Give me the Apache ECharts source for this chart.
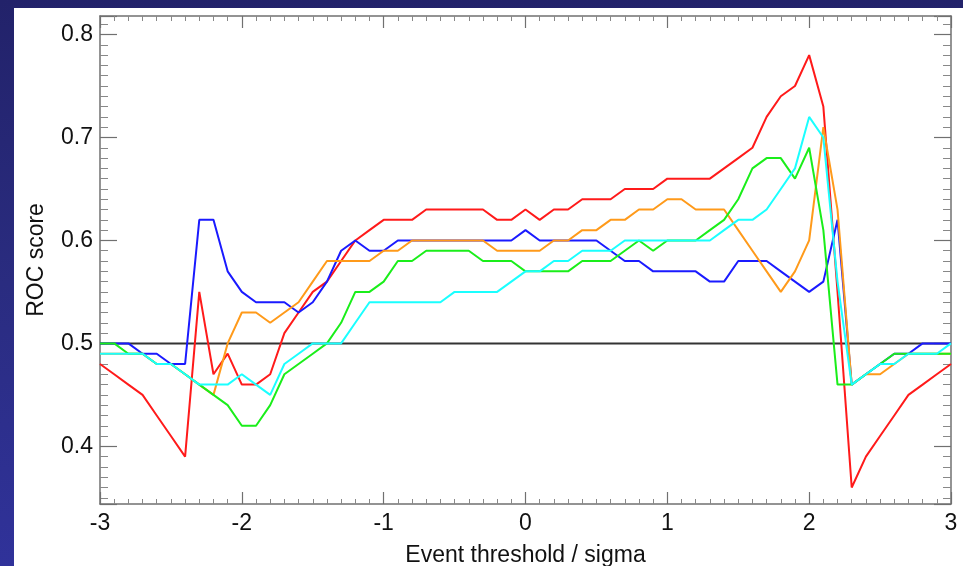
<!DOCTYPE html>
<html>
<head>
<meta charset="utf-8">
<script src="https://cdn.jsdelivr.net/npm/echarts@6/dist/echarts.min.js"></script>
<style>
html,body{margin:0;padding:0;width:963px;height:566px;overflow:hidden;
background:linear-gradient(180deg,#22226a 0%,#2a2c80 50%,#30329a 100%);}
#chart{position:absolute;left:14px;top:8px;width:949px;height:558px;background:#ffffff;}
</style>
</head>
<body>
<div id="chart"></div>
<script>
// x values: event threshold / sigma, -3.0 .. 3.0 step 0.1
const thresholds = ["-3.0","-2.9","-2.8","-2.7","-2.6","-2.5","-2.4","-2.3","-2.2","-2.1",
"-2.0","-1.9","-1.8","-1.7","-1.6","-1.5","-1.4","-1.3","-1.2","-1.1",
"-1.0","-0.9","-0.8","-0.7","-0.6","-0.5","-0.4","-0.3","-0.2","-0.1",
"0.0","0.1","0.2","0.3","0.4","0.5","0.6","0.7","0.8","0.9",
"1.0","1.1","1.2","1.3","1.4","1.5","1.6","1.7","1.8","1.9",
"2.0","2.1","2.2","2.3","2.4","2.5","2.6","2.7","2.8","2.9","3.0"];

const redScores = [0.48,0.47,0.46,0.45,0.43,0.41,0.39,0.55,0.47,0.49,
0.46,0.46,0.47,0.51,0.53,0.55,0.56,0.58,0.60,0.61,
0.62,0.62,0.62,0.63,0.63,0.63,0.63,0.63,0.62,0.62,
0.63,0.62,0.63,0.63,0.64,0.64,0.64,0.65,0.65,0.65,
0.66,0.66,0.66,0.66,0.67,0.68,0.69,0.72,0.74,0.75,
0.78,0.73,0.55,0.36,0.39,0.41,0.43,0.45,0.46,0.47,0.48];

const blueScores = [0.50,0.50,0.50,0.49,0.49,0.48,0.48,0.62,0.62,0.57,
0.55,0.54,0.54,0.54,0.53,0.54,0.56,0.59,0.60,0.59,
0.59,0.60,0.60,0.60,0.60,0.60,0.60,0.60,0.60,0.60,
0.61,0.60,0.60,0.60,0.60,0.60,0.59,0.58,0.58,0.57,
0.57,0.57,0.57,0.56,0.56,0.58,0.58,0.58,0.57,0.56,
0.55,0.56,0.62,0.46,0.47,0.48,0.49,0.49,0.50,0.50,0.50];

const orangeScores = [0.49,0.49,0.49,0.49,0.48,0.48,0.47,0.46,0.45,0.50,
0.53,0.53,0.52,0.53,0.54,0.56,0.58,0.58,0.58,0.58,
0.59,0.59,0.60,0.60,0.60,0.60,0.60,0.60,0.59,0.59,
0.59,0.59,0.60,0.60,0.61,0.61,0.62,0.62,0.63,0.63,
0.64,0.64,0.63,0.63,0.63,0.61,0.59,0.57,0.55,0.57,
0.60,0.71,0.63,0.46,0.47,0.47,0.48,0.49,0.49,0.49,0.49];

const greenScores = [0.50,0.50,0.49,0.49,0.48,0.48,0.47,0.46,0.45,0.44,
0.42,0.42,0.44,0.47,0.48,0.49,0.50,0.52,0.55,0.55,
0.56,0.58,0.58,0.59,0.59,0.59,0.59,0.58,0.58,0.58,
0.57,0.57,0.57,0.57,0.58,0.58,0.58,0.59,0.60,0.59,
0.60,0.60,0.60,0.61,0.62,0.64,0.67,0.68,0.68,0.66,
0.69,0.61,0.46,0.46,0.47,0.48,0.49,0.49,0.49,0.49,0.49];

const cyanScores = [0.49,0.49,0.49,0.49,0.48,0.48,0.47,0.46,0.46,0.46,
0.47,0.46,0.45,0.48,0.49,0.50,0.50,0.50,0.52,0.54,
0.54,0.54,0.54,0.54,0.54,0.55,0.55,0.55,0.55,0.56,
0.57,0.57,0.58,0.58,0.59,0.59,0.59,0.60,0.60,0.60,
0.60,0.60,0.60,0.60,0.61,0.62,0.62,0.63,0.65,0.67,
0.72,0.70,0.56,0.46,0.47,0.48,0.48,0.49,0.49,0.49,0.50];

const referenceLevel = 0.5;
const xTicks = [-3,-2,-1,0,1,2,3];
const yTicks = [0.4,0.5,0.6,0.7,0.8];

function pairs(vals){ return vals.map((v,i)=>[parseFloat(thresholds[i]), v]); }

const chart = echarts.init(document.getElementById('chart'), null, {renderer:'canvas'});
const font = "'Liberation Sans', Arial, Helvetica, sans-serif";
const axisGray = '#707070';
const fs = 23;

const xBase = {
  type:'value', min:-3, max:3, interval:1,
  axisLine:{show:true, onZero:false, lineStyle:{color:axisGray, width:1.5}},
  axisTick:{show:true, inside:true, length:12, lineStyle:{color:axisGray, width:1.2}},
  minorTick:{show:true, splitNumber:10, length:5, lineStyle:{color:'#888', width:1}},
  splitLine:{show:false}
};
const yBase = {
  type:'value', min:0.344, max:0.818, splitNumber:5,
  axisLine:{show:true, onZero:false, lineStyle:{color:axisGray, width:1.5}},
  axisTick:{show:true, inside:true, length:17, lineStyle:{color:axisGray, width:1.2}},
  minorTick:{show:true, splitNumber:10, length:8, lineStyle:{color:'#888', width:1}},
  splitLine:{show:false}
};

const lineSeries = (name, data, color) => ({
  name, type:'line', data: pairs(data), xAxisIndex:0, yAxisIndex:0,
  symbol:'none', smooth:false, animation:false,
  lineStyle:{color, width:2}, itemStyle:{color}
});

chart.setOption({
  animation:false,
  grid:{left:86, right:12, top:8, bottom:62, containLabel:false, outerBoundsMode:'none'},
  xAxis:[
    Object.assign({}, xBase, {
      position:'bottom',
      name:'Event threshold / sigma', nameLocation:'middle', nameGap:40,
      nameTextStyle:{fontFamily:font, fontSize:fs, color:'#111'},
      axisLabel:{show:true, margin:8, fontFamily:font, fontSize:fs, color:'#111',
        formatter:(v)=> xTicks.includes(Math.round(v)) ? String(Math.round(v)) : ''}
    }),
    Object.assign({}, xBase, {position:'top', axisLabel:{show:false}})
  ],
  yAxis:[
    Object.assign({}, yBase, {
      position:'left',
      name:'ROC score', nameLocation:'middle', nameGap:52, nameRotate:90,
      nameTextStyle:{fontFamily:font, fontSize:fs, color:'#111'},
      axisLabel:{show:true, margin:7, fontFamily:font, fontSize:fs, color:'#111',
        showMinLabel:false, showMaxLabel:false,
        formatter:(v)=>{ const r=Math.round(v*10)/10; return (Math.abs(v-r)<1e-6 && yTicks.some(t=>Math.abs(t-r)<1e-6)) ? r.toFixed(1) : ''; }}
    }),
    Object.assign({}, yBase, {position:'right', axisLabel:{show:false}})
  ],
  series:[
    {
      name:'reference', type:'line', symbol:'none', animation:false,
      data:[[-3, referenceLevel],[3, referenceLevel]],
      lineStyle:{color:'#333333', width:2}
    },
    lineSeries('red', redScores, '#ff1a1a'),
    lineSeries('blue', blueScores, '#1a1aff'),
    lineSeries('orange', orangeScores, '#ff9a1a'),
    lineSeries('green', greenScores, '#1aee1a'),
    lineSeries('cyan', cyanScores, '#1affff')
  ]
});
</script>
</body>
</html>
